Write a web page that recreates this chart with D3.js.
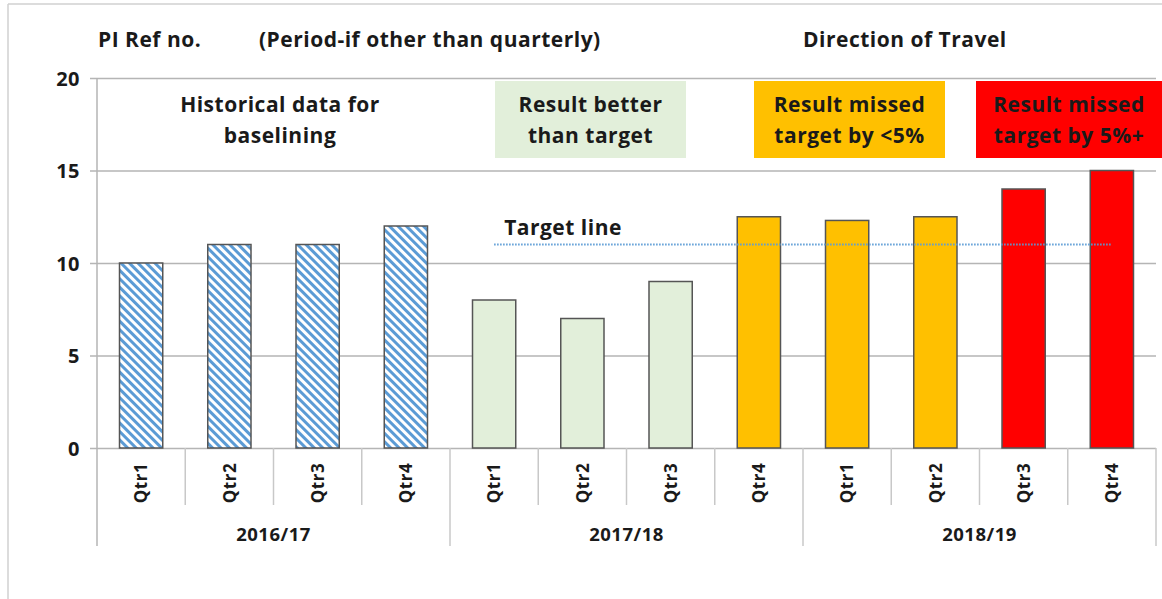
<!DOCTYPE html>
<html>
<head>
<meta charset="utf-8">
<script src="https://cdn.jsdelivr.net/npm/d3@7"></script>
<style>
  body { margin: 0; background: #fff; }
  svg text { font-family: "Open Sans", Lato, sans-serif; font-weight: bold; fill: #1a1a1a; letter-spacing: 0.5px; }
</style>
</head>
<body>
<div id="vis"></div>
<script>
// chart data
let years = ['2016/17', '2017/18', '2018/19'];
let quarters = ['Qtr1', 'Qtr2', 'Qtr3', 'Qtr4', 'Qtr1', 'Qtr2', 'Qtr3', 'Qtr4', 'Qtr1', 'Qtr2', 'Qtr3', 'Qtr4'];
let yearOf = [0, 0, 0, 0, 1, 1, 1, 1, 2, 2, 2, 2];
let values = [10, 11, 11, 12, 8, 7, 9, 12.5, 12.3, 12.5, 14, 15];
let status = ['hist', 'hist', 'hist', 'hist', 'better', 'better', 'better', 'minor', 'minor', 'minor', 'major', 'major'];
let yTicks = [0, 5, 10, 15, 20];
let target = 11;
let headers = ['PI Ref no.', '(Period-if other than quarterly)', 'Direction of Travel'];
let legendKeys = ['hist', 'better', 'minor', 'major'];
let legendLines = [
    ['Historical data for', 'baselining'],
    ['Result better', 'than target'],
    ['Result missed', 'target by <5%'],
    ['Result missed', 'target by 5%+']
];

let width = 1162, height = 599;
let margin = { top: 78, left: 97, right: 6, bottom: 151 };

let svg = d3.select('#vis')
    .append('svg')
    .attr('width', width)
    .attr('height', height);

let fills = { better: '#e2efda', minor: '#ffc000', major: '#ff0000' };

// hatch for historical bars
let defs = svg.append('defs');
let pat = defs.append('pattern')
    .attr('id', 'hatch')
    .attr('patternUnits', 'userSpaceOnUse')
    .attr('width', 6)
    .attr('height', 6)
    .attr('patternTransform', 'rotate(-45)');
pat.append('rect').attr('width', 6).attr('height', 6).attr('fill', '#fff');
pat.append('rect').attr('width', 3).attr('height', 6).attr('fill', '#5b9bd5');

function fillFor(s) {
    return s === 'hist' ? 'url(#hatch)' : fills[s];
}

// outer frame (top + left only visible)
svg.append('line')
    .attr('x1', 8).attr('x2', width).attr('y1', 4).attr('y2', 4)
    .attr('stroke', '#d0d0d0').attr('stroke-width', 1.5);
svg.append('line')
    .attr('x1', 8).attr('x2', 8).attr('y1', 4).attr('y2', height)
    .attr('stroke', '#d0d0d0').attr('stroke-width', 1.5);

let x = d3.scaleBand()
    .domain(d3.range(values.length))
    .range([margin.left, width - margin.right])
    .paddingInner(0.51)
    .paddingOuter(0.255);

let y = d3.scaleLinear()
    .domain([0, 20])
    .range([height - margin.bottom, margin.top]);

let step = x.step();
let x0 = margin.left;

// gridlines + y axis
let yAxis = d3.axisLeft(y)
    .tickValues(yTicks)
    .tickSize(-(width - margin.right - margin.left))
    .tickPadding(17);
let gy = svg.append('g')
    .attr('transform', 'translate(' + margin.left + ',0)')
    .call(yAxis);
gy.select('.domain').remove();
gy.selectAll('.tick line')
    .attr('x1', -7)
    .attr('stroke', '#b5b5b5')
    .attr('stroke-width', 1.5);
gy.selectAll('.tick text')
    .attr('font-size', 20)
    .attr('dy', '0.35em');

// left axis line
svg.append('line')
    .attr('x1', x0).attr('x2', x0)
    .attr('y1', y(20)).attr('y2', y(0) + 98)
    .attr('stroke', '#b5b5b5').attr('stroke-width', 1.5);

// category separators
svg.selectAll('.qsep')
    .data(d3.range(1, values.length + 1))
    .join('line')
    .attr('class', 'qsep')
    .attr('x1', d => x0 + d * step)
    .attr('x2', d => x0 + d * step)
    .attr('y1', y(0))
    .attr('y2', d => y(0) + (d % 4 === 0 ? 98 : 57))
    .attr('stroke', '#c8c8c8')
    .attr('stroke-width', 1.5);

// bars
svg.selectAll('.bar')
    .data(values)
    .join('rect')
    .attr('class', 'bar')
    .attr('x', (d, i) => x(i))
    .attr('width', x.bandwidth())
    .attr('y', d => y(d))
    .attr('height', d => y(0) - y(d))
    .attr('fill', (d, i) => fillFor(status[i]))
    .attr('stroke', '#555')
    .attr('stroke-width', 1.5);

// quarter labels
svg.selectAll('.qlab')
    .data(quarters)
    .join('text')
    .attr('class', 'qlab')
    .attr('transform', (d, i) => 'translate(' + (x(i) + x.bandwidth() / 2) + ',' + (y(0) + 35) + ') rotate(-90)')
    .attr('text-anchor', 'middle')
    .attr('dy', '0.36em')
    .attr('font-size', 17)
    .text(d => d);

// year labels
svg.selectAll('.ylab')
    .data(years)
    .join('text')
    .attr('class', 'ylab')
    .attr('x', (d, i) => {
        let idx = yearOf.map((v, k) => v === i ? k : -1).filter(k => k >= 0);
        return x0 + (d3.min(idx) + d3.max(idx) + 1) / 2 * step;
    })
    .attr('y', y(0) + 93)
    .attr('text-anchor', 'middle')
    .attr('font-size', 18.5)
    .text(d => d);

// target line from first "better" bar to last bar
let firstT = status.indexOf('better');
svg.append('line')
    .attr('x1', x(firstT) + x.bandwidth() / 2)
    .attr('x2', x(values.length - 1) + x.bandwidth() / 2)
    .attr('y1', y(target)).attr('y2', y(target))
    .attr('stroke', '#5b9bd5')
    .attr('stroke-width', 2)
    .attr('stroke-dasharray', '1.5,1.5');
svg.append('text')
    .attr('x', x(firstT) + x.bandwidth() / 2 + 10)
    .attr('y', y(target) - 10)
    .attr('font-size', 21)
    .text('Target line');

// headers
let headerX = [98, 259, 803];
svg.selectAll('.hdr')
    .data(headers)
    .join('text')
    .attr('class', 'hdr')
    .attr('x', (d, i) => headerX[i])
    .attr('y', 47)
    .attr('font-size', 21)
    .text(d => d);

// legend boxes
let boxX = [185, 495, 754, 976];
let boxW = [190, 191, 191, 186];
legendKeys.forEach((k, i) => {
    if (k !== 'hist') {
        svg.append('rect')
            .attr('x', boxX[i]).attr('y', 81)
            .attr('width', boxW[i]).attr('height', 77)
            .attr('fill', fills[k]);
    }
    let t = svg.append('text')
        .attr('x', boxX[i] + boxW[i] / 2)
        .attr('y', 112)
        .attr('text-anchor', 'middle')
        .attr('font-size', 21);
    legendLines[i].forEach((line, j) => {
        t.append('tspan')
            .attr('x', boxX[i] + boxW[i] / 2)
            .attr('dy', j === 0 ? 0 : 31)
            .text(line);
    });
});
</script>
</body>
</html>
